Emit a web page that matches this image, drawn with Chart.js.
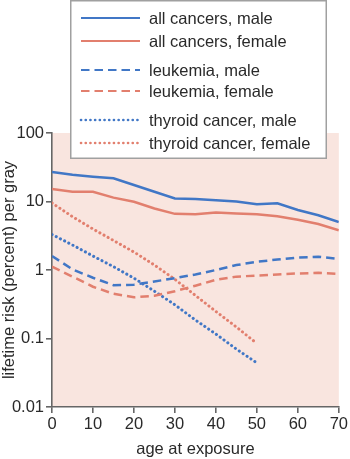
<!DOCTYPE html>
<html>
<head>
<meta charset="utf-8">
<script src="https://cdn.jsdelivr.net/npm/chart.js@4/dist/chart.umd.min.js"></script>
<style>
  html, body { margin: 0; padding: 0; background: #fff; }
  #wrap { position: relative; width: 350px; height: 459px; }
</style>
</head>
<body>
<div id="wrap"><canvas id="c" width="350" height="459"></canvas></div>
<script>
// ages at exposure (years)
const ages = [0, 5, 10, 15, 20, 25, 30, 35, 40, 45, 50, 55, 60, 65, 70];
const thyroidAges = [0, 5, 10, 15, 20, 25, 30, 35, 40, 45, 50];

// lifetime risk (percent) per gray
const allMale      = [27, 24.5, 23, 21.8, 17.4, 13.9, 11.1, 10.9, 10.4, 10.0, 9.1, 9.4, 7.5, 6.3, 5.0];
const allFemale    = [15.2, 13.9, 13.9, 11.4, 9.9, 7.9, 6.6, 6.5, 6.9, 6.7, 6.5, 6.1, 5.4, 4.7, 3.8];
const leukMale     = [1.6, 1.02, 0.77, 0.60, 0.61, 0.68, 0.76, 0.86, 1.0, 1.18, 1.32, 1.42, 1.52, 1.56, 1.45];
const leukFemale   = [1.12, 0.80, 0.57, 0.45, 0.40, 0.42, 0.49, 0.59, 0.72, 0.80, 0.83, 0.86, 0.89, 0.91, 0.88];
const thyMale      = [3.3, 2.32, 1.6, 1.12, 0.76, 0.49, 0.31, 0.186, 0.116, 0.070, 0.044];
const thyFemale    = [9.5, 6.0, 3.97, 2.7, 1.83, 1.18, 0.73, 0.425, 0.248, 0.147, 0.0845];

const xTicks = [0, 10, 20, 30, 40, 50, 60, 70];
const yTicks = [0.01, 0.1, 1, 10, 100];
const yTickLabels = ["0.01", "0.1", "1", "10", "100"];

const BLUE = "#4177c6", RED = "#e27f6e", INK = "#2a2a2a", AXIS = "#666";
const FONT = "'Liberation Sans', Arial, Helvetica, sans-serif";
const FS = 16.5;

function pts(xs, ys) { return ys.map(function (v, i) { return { x: xs[i], y: v }; }); }

function ds(label, xs, ys, color, dash) {
  const dotted = dash.length && dash[0] < 1;
  return { label: label, data: pts(xs, ys), borderColor: color, borderWidth: dotted ? 3 : 2.5, borderDash: dash,
    pointRadius: 0, tension: 0, fill: false, borderCapStyle: dotted ? "round" : "butt" };
}

// pink plotting field
const bgPlugin = {
  id: "bg",
  beforeDraw: function (chart) {
    const a = chart.chartArea, ctx = chart.ctx;
    ctx.save(); ctx.fillStyle = "#f9e5df";
    ctx.fillRect(a.left, a.top, a.right - a.left, a.bottom - a.top);
    ctx.restore();
  }
};

// boxed legend that sits over the top of the plot, in three pairs
const legendPlugin = {
  id: "boxLegend",
  afterDraw: function (chart) {
    const ctx = chart.ctx;
    const rows = [18, 41, 70, 91, 120, 143];
    ctx.save();
    ctx.fillStyle = "#fff"; ctx.strokeStyle = "#a0a0a0"; ctx.lineWidth = 1.5;
    ctx.fillRect(70, 0, 257, 159); ctx.strokeRect(70.75, 0.75, 255.5, 157.5);
    ctx.font = FS + "px " + FONT; ctx.fillStyle = INK; ctx.textBaseline = "middle";
    chart.data.datasets.forEach(function (d, i) {
      const y = rows[i];
      ctx.beginPath(); ctx.strokeStyle = d.borderColor; ctx.lineWidth = d.borderCapStyle === "round" ? 2.6 : 2.2;
      ctx.setLineDash(d.borderDash); ctx.lineCap = d.borderCapStyle;
      ctx.moveTo(81, y); ctx.lineTo(140, y); ctx.stroke();
      ctx.setLineDash([]);
      ctx.fillText(d.label, 149, y + 1);
    });
    ctx.restore();
  }
};

new Chart(document.getElementById("c"), {
  type: "line",
  data: { datasets: [
    ds("all cancers, male", ages, allMale, BLUE, []),
    ds("all cancers, female", ages, allFemale, RED, []),
    ds("leukemia, male", ages, leukMale, BLUE, [8.5, 5]),
    ds("leukemia, female", ages, leukFemale, RED, [8.5, 5]),
    ds("thyroid cancer, male", thyroidAges, thyMale, BLUE, [0.1, 4.6]),
    ds("thyroid cancer, female", thyroidAges, thyFemale, RED, [0.1, 4.6]),
  ] },
  options: {
    responsive: false, animation: false,
    layout: { padding: { top: 133, right: 8, left: 0, bottom: 0 } },
    plugins: { legend: { display: false }, tooltip: { enabled: false } },
    scales: {
      x: {
        type: "linear", min: 0, max: 70,
        afterBuildTicks: function (s) { s.ticks = xTicks.map(function (v) { return { value: v }; }); },
        afterFit: function (s) { s.height = 52; },
        border: { color: AXIS, width: 1.6 },
        grid: { drawOnChartArea: false, drawTicks: true, tickLength: 6, color: AXIS, lineWidth: 1.6 },
        ticks: { color: INK, padding: 2, font: { family: FONT, size: FS }, maxRotation: 0 },
        title: { display: true, text: "age at exposure", color: INK, padding: 0, font: { family: FONT, size: FS } },
      },
      y: {
        type: "logarithmic", min: 0.01, max: 100,
        afterBuildTicks: function (s) { s.ticks = yTicks.map(function (v) { return { value: v }; }); },
        afterFit: function (s) { s.width = 52; },
        border: { color: AXIS, width: 1.6 },
        grid: { drawOnChartArea: false, drawTicks: true, tickLength: 6, color: AXIS, lineWidth: 1.6 },
        ticks: { color: INK, padding: 2, font: { family: FONT, size: FS },
          callback: function (v) { const i = yTicks.indexOf(v); return i >= 0 ? yTickLabels[i] : ""; } },
        title: { display: true, text: "lifetime risk (percent) per gray", color: INK, padding: 0, font: { family: FONT, size: FS } },
      },
    },
  },
  plugins: [bgPlugin, legendPlugin],
});
</script>
</body>
</html>
